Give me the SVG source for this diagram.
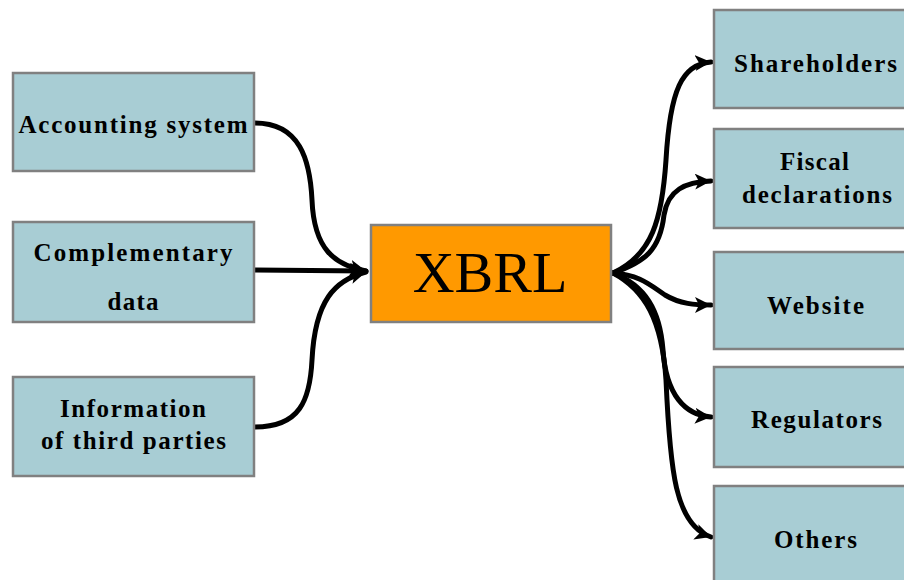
<svg xmlns="http://www.w3.org/2000/svg" width="904" height="580" viewBox="0 0 904 580">
<style>
.box{fill:#A8CDD4;stroke:#808080;stroke-width:2.5}
.core{fill:#FF9900;stroke:#808080;stroke-width:2.5}
.t{font-family:"Liberation Serif","Times New Roman",serif;font-size:25px;font-weight:bold;fill:#000;text-anchor:middle}
.x{font-family:"Liberation Serif","Times New Roman",serif;font-size:58px;fill:#000;text-anchor:middle}
.c{fill:none;stroke:#000;stroke-width:5;stroke-linecap:round}
</style>
<defs>
<marker id="ah" markerUnits="userSpaceOnUse" markerWidth="20" markerHeight="18" refX="16" refY="8" orient="auto">
<path d="M0,0 L16,8 L0,16 L4,8 z" fill="#000"/>
</marker>
</defs>
<rect width="904" height="580" fill="#fff"/>
<g id="connectors">
<path class="c" d="M255,123 C300,123 310,160 312,200 C314,250 335,265 366,271" marker-end="url(#ah)"/>
<path class="c" d="M255,270 L366,271" marker-end="url(#ah)"/>
<path class="c" d="M255,427 C300,427 310,400 312,360 C315,300 335,280 366,272" marker-end="url(#ah)"/>
<path class="c" d="M613,273 C652,255 662,220 666,160 C670,90 682,64 711,62" marker-end="url(#ah)"/>
<path class="c" d="M613,273 C645,262 660,250 664,215 C668,190 685,182 711,181" marker-end="url(#ah)"/>
<path class="c" d="M613,273 C640,275 650,285 665,295 C680,304 695,305 711,305" marker-end="url(#ah)"/>
<path class="c" d="M613,273 C645,285 660,310 663,350 C666,395 685,415 711,417" marker-end="url(#ah)"/>
<path class="c" d="M613,273 C645,290 662,320 666,380 C670,470 675,525 711,537" marker-end="url(#ah)"/>
</g>
<g id="accounting">
<rect class="box" x="13" y="73" width="241" height="98"/>
<text class="t" x="133" y="133" textLength="229" lengthAdjust="spacing">Accounting system</text>
</g>
<g id="complementary">
<rect class="box" x="13" y="222" width="241" height="100"/>
<text class="t" x="133" y="261" textLength="199" lengthAdjust="spacing">Complementary</text>
<text class="t" x="133" y="310" textLength="51" lengthAdjust="spacing">data</text>
</g>
<g id="thirdparties">
<rect class="box" x="13" y="377" width="241" height="99"/>
<text class="t" x="133" y="417" textLength="146" lengthAdjust="spacing">Information</text>
<text class="t" x="133.5" y="449" textLength="185" lengthAdjust="spacing">of third parties</text>
</g>
<g id="xbrl">
<rect class="core" x="371" y="225" width="240" height="97"/>
<text class="x" x="490" y="292">XBRL</text>
</g>
<g id="shareholders">
<rect class="box" x="714" y="10" width="210" height="98"/>
<text class="t" x="815.5" y="72" textLength="163" lengthAdjust="spacing">Shareholders</text>
</g>
<g id="fiscal">
<rect class="box" x="714" y="129" width="210" height="99"/>
<text class="t" x="814.5" y="170" textLength="69" lengthAdjust="spacing">Fiscal</text>
<text class="t" x="817" y="203" textLength="150" lengthAdjust="spacing">declarations</text>
</g>
<g id="website">
<rect class="box" x="714" y="252" width="210" height="97"/>
<text class="t" x="815.5" y="314" textLength="97" lengthAdjust="spacing">Website</text>
</g>
<g id="regulators">
<rect class="box" x="714" y="367" width="210" height="100"/>
<text class="t" x="816.5" y="428" textLength="131" lengthAdjust="spacing">Regulators</text>
</g>
<g id="others">
<rect class="box" x="714" y="486" width="210" height="110"/>
<text class="t" x="815.5" y="548" textLength="83" lengthAdjust="spacing">Others</text>
</g>
</svg>
